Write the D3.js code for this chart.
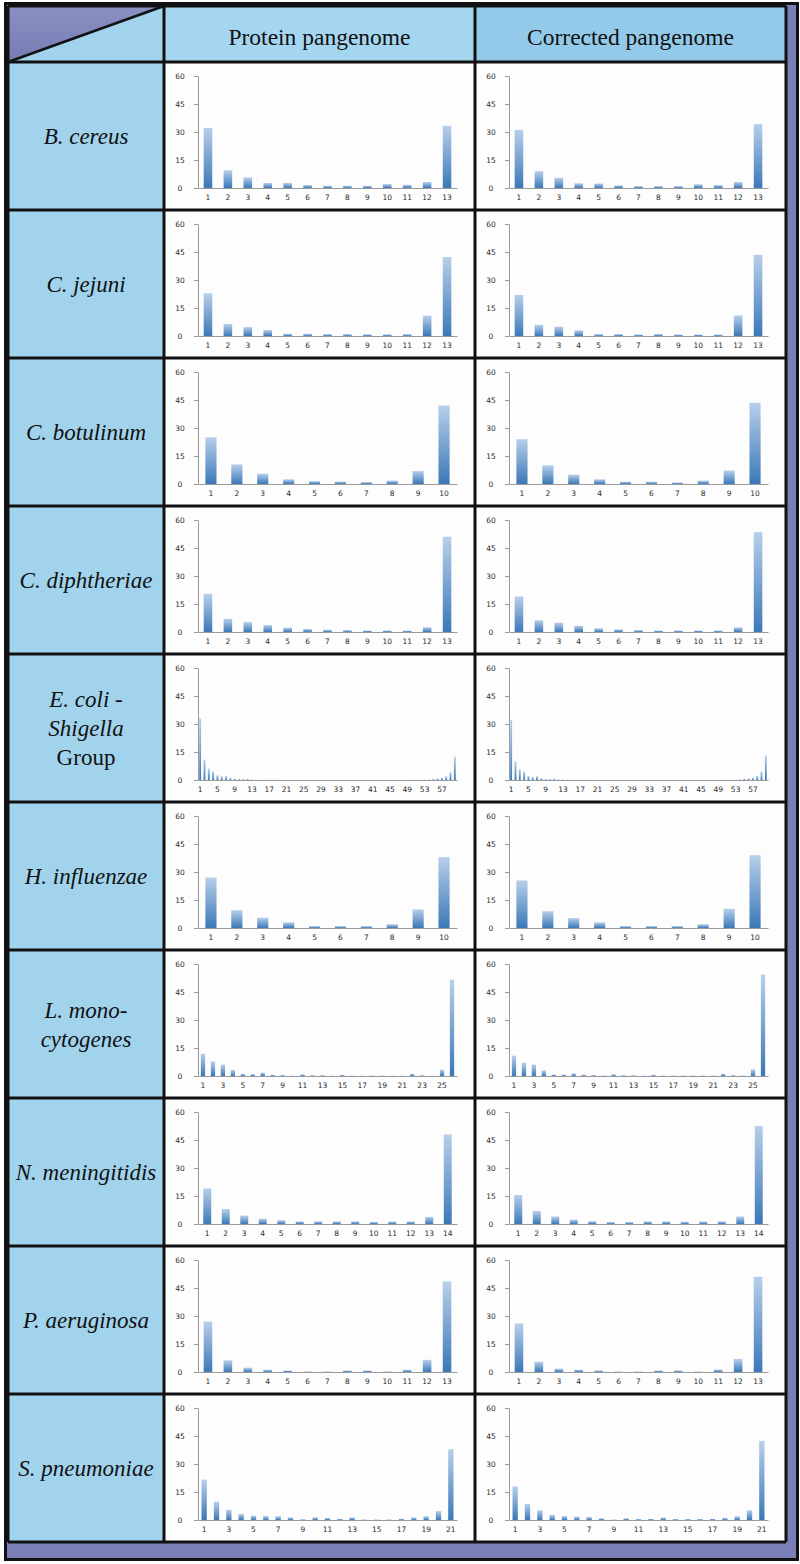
<!DOCTYPE html>
<html><head><meta charset="utf-8">
<script src="https://cdn.jsdelivr.net/npm/d3@7"></script>
<style>body{margin:0;background:#fff}svg{display:block}</style>
</head><body>
<script>
// ---------- DATA ----------
const columnTitles = ["Protein pangenome", "Corrected pangenome"];
const speciesNames = ["B. cereus", "C. jejuni", "C. botulinum", "C. diphtheriae",
  "E. coli -\nShigella\nGroup", "H. influenzae", "L. mono-\ncytogenes",
  "N. meningitidis", "P. aeruginosa", "S. pneumoniae"];
const romanLines = ["Group"];
const yTickValues = [0, 15, 30, 45, 60];

const bcereusProtein   = [32.2, 9.5, 5.7, 2.7, 2.7, 1.6, 1.2, 1.2, 1.2, 2.1, 1.7, 3.2, 33.3];
const bcereusCorrected = [31.1, 9.0, 5.4, 2.5, 2.4, 1.4, 1.0, 1.0, 1.0, 2.0, 1.6, 3.2, 34.2];
const cjejuniProtein   = [22.9, 6.4, 4.8, 3.2, 1.2, 1.2, 1.0, 1.0, 0.9, 0.9, 1.0, 10.9, 42.3];
const cjejuniCorrected = [22.0, 6.0, 5.0, 3.0, 1.0, 1.0, 0.8, 1.0, 0.8, 0.8, 0.8, 11.0, 43.5];
const cbotulinumProtein   = [25.0, 10.5, 5.5, 2.5, 1.5, 1.3, 1.0, 1.8, 7.0, 42.0];
const cbotulinumCorrected = [24.0, 10.0, 5.0, 2.5, 1.2, 1.2, 0.8, 1.8, 7.2, 43.5];
const cdiphtheriaeProtein   = [20.5, 7.0, 5.3, 3.7, 2.3, 1.6, 1.2, 1.0, 0.8, 0.8, 0.8, 2.5, 51.0];
const cdiphtheriaeCorrected = [19.0, 6.3, 5.0, 3.3, 2.0, 1.4, 1.0, 0.8, 0.8, 0.8, 0.8, 2.5, 53.5];
const ecoliProtein = [33.0, 10.9, 6.2, 4.6, 2.5, 2.0, 2.1, 1.1, 0.6, 0.5, 0.5, 0.6, 0.3,
  0.2, 0.2, 0.2, 0.2, 0.2, 0.2, 0.1, 0.1, 0.1, 0.1, 0.1, 0.1, 0.1, 0.1, 0.1, 0.1,
  0.1, 0.1, 0.1, 0.1, 0.1, 0.1, 0.1, 0.1, 0.1, 0.1, 0.1, 0.1, 0.1, 0.1, 0.1, 0.1,
  0.1, 0.1, 0.1, 0.1, 0.2, 0.2, 0.2, 0.2,
  0.3, 0.5, 0.8, 1.2, 2.0, 4.2, 12.5];
const ecoliCorrected = [32.2, 10.0, 5.7, 4.6, 2.1, 1.6, 2.0, 0.9, 0.5, 0.5, 0.6, 0.3, 0.3,
  0.2, 0.2, 0.2, 0.2, 0.2, 0.1, 0.1, 0.1, 0.1, 0.1, 0.1, 0.1, 0.1, 0.1, 0.1, 0.1,
  0.1, 0.1, 0.1, 0.1, 0.1, 0.1, 0.1, 0.1, 0.1, 0.1, 0.1, 0.1, 0.1, 0.1, 0.1, 0.1,
  0.1, 0.1, 0.1, 0.1, 0.1, 0.2, 0.2, 0.2,
  0.3, 0.6, 0.8, 1.2, 2.2, 4.5, 13.2];
const hinfluenzaeProtein   = [27.0, 9.5, 5.5, 3.0, 1.0, 1.0, 1.0, 2.0, 10.0, 38.0];
const hinfluenzaeCorrected = [25.5, 9.0, 5.3, 3.0, 1.0, 1.0, 1.0, 2.0, 10.3, 39.0];
const lmonoProtein   = [11.9, 7.8, 6.1, 3.2, 1.2, 1.0, 1.8, 0.7, 0.5, 0.2, 0.9, 0.4, 0.4,
  0.2, 0.6, 0.2, 0.2, 0.3, 0.3, 0.2, 0.2, 1.1, 0.4, 0.2, 3.4, 51.6];
const lmonoCorrected = [10.9, 7.1, 6.1, 3.0, 0.8, 0.8, 1.4, 0.7, 0.5, 0.3, 0.9, 0.4, 0.4,
  0.2, 0.6, 0.3, 0.3, 0.3, 0.3, 0.3, 0.3, 1.2, 0.4, 0.3, 3.6, 54.3];
const nmeningitidisProtein   = [19.0, 8.0, 4.5, 2.8, 2.0, 1.4, 1.4, 1.4, 1.4, 1.1, 1.3, 1.4, 3.8, 48.0];
const nmeningitidisCorrected = [15.5, 7.0, 4.0, 2.3, 1.5, 1.0, 1.0, 1.4, 1.4, 1.2, 1.3, 1.4, 4.0, 52.5];
const paeruginosaProtein   = [27.0, 6.3, 2.3, 1.2, 0.8, 0.3, 0.3, 0.8, 0.8, 0.3, 1.2, 6.5, 48.5];
const paeruginosaCorrected = [26.0, 5.5, 1.8, 1.2, 0.8, 0.3, 0.3, 0.8, 0.8, 0.3, 1.3, 7.0, 51.0];
const spneumoniaeProtein   = [21.6, 9.8, 5.5, 3.2, 2.3, 2.1, 2.0, 1.4, 0.4, 1.4, 1.1, 0.6, 1.4,
  0.3, 0.3, 0.3, 0.6, 1.3, 2.0, 4.8, 37.9];
const spneumoniaeCorrected = [18.0, 8.6, 5.2, 2.7, 2.1, 1.8, 1.6, 0.9, 0.3, 0.9, 0.5, 0.6, 1.3,
  0.5, 0.5, 0.5, 0.6, 1.1, 2.0, 5.2, 42.4];

const proteinSeries = [bcereusProtein, cjejuniProtein, cbotulinumProtein, cdiphtheriaeProtein,
  ecoliProtein, hinfluenzaeProtein, lmonoProtein, nmeningitidisProtein, paeruginosaProtein, spneumoniaeProtein];
const correctedSeries = [bcereusCorrected, cjejuniCorrected, cbotulinumCorrected, cdiphtheriaeCorrected,
  ecoliCorrected, hinfluenzaeCorrected, lmonoCorrected, nmeningitidisCorrected, paeruginosaCorrected, spneumoniaeCorrected];

// ---------- LAYOUT ----------
const W = 800, H = 1564;
const svg = d3.select("body").append("svg").attr("width", W).attr("height", H);
const defs = svg.append("defs");
const bg = defs.append("linearGradient").attr("id", "barGrad").attr("x1", 0).attr("y1", 0).attr("x2", 0).attr("y2", 1);
bg.append("stop").attr("offset", "0%").attr("stop-color", "#b7cfea");
bg.append("stop").attr("offset", "100%").attr("stop-color", "#3b78b7");
const cg = defs.append("linearGradient").attr("id", "cornerGrad").attr("x1", 0).attr("y1", 0).attr("x2", 0).attr("y2", 1);
cg.append("stop").attr("offset", "0%").attr("stop-color", "#8a90c3");
cg.append("stop").attr("offset", "100%").attr("stop-color", "#767db3");

const gridLeft = 8, gridTop = 6, headBottom = 62, gridBottom = 1542;
const colX = [164, 475, 786];

// outer frame
svg.append("rect").attr("x", 5.5).attr("y", 3.5).attr("width", 792).attr("height", 1556)
  .attr("fill", "#7a80b6").attr("stroke", "#111").attr("stroke-width", 3);

const rowScale = d3.scaleBand().domain(speciesNames).range([headBottom, gridBottom]);

// left column cells
svg.append("rect").attr("x", gridLeft).attr("y", headBottom).attr("width", colX[0] - gridLeft)
  .attr("height", gridBottom - headBottom).attr("fill", "#a1d3ed");
// header cells
svg.append("rect").attr("x", colX[0]).attr("y", gridTop).attr("width", colX[1] - colX[0])
  .attr("height", headBottom - gridTop).attr("fill", "#a5d6ef");
svg.append("rect").attr("x", colX[1]).attr("y", gridTop).attr("width", colX[2] - colX[1])
  .attr("height", headBottom - gridTop).attr("fill", "#94cae9");
// corner
svg.append("rect").attr("x", gridLeft).attr("y", gridTop).attr("width", colX[0] - gridLeft)
  .attr("height", headBottom - gridTop).attr("fill", "#a1d3ed");
svg.append("path").attr("d", d3.line()([[gridLeft, gridTop], [colX[0], gridTop], [gridLeft, headBottom]]))
  .attr("fill", "url(#cornerGrad)");
// chart cells background
svg.append("rect").attr("x", colX[0]).attr("y", headBottom).attr("width", colX[2] - colX[0])
  .attr("height", gridBottom - headBottom).attr("fill", "#fdfdfe");

// header text
columnTitles.forEach((t, i) => {
  svg.append("text").attr("x", (colX[i] + colX[i + 1]) / 2).attr("y", 45)
    .attr("text-anchor", "middle").attr("font-family", "'Liberation Serif', serif")
    .attr("font-size", 23.5).attr("fill", "#111").text(t);
});

// species labels
speciesNames.forEach(name => {
  const lines = name.split("\n");
  const cy = rowScale(name) + rowScale.bandwidth() / 2;
  const lh = 29;
  const t = svg.append("text").attr("text-anchor", "middle")
    .attr("font-family", "'Liberation Serif', serif").attr("font-size", 23).attr("fill", "#111");
  lines.forEach((ln, k) => {
    t.append("tspan").attr("x", (gridLeft + colX[0]) / 2)
      .attr("y", cy + 8 - (lines.length - 1) * lh / 2 + k * lh)
      .attr("font-style", romanLines.includes(ln) ? "normal" : "italic")
      .text(ln);
  });
});

// charts
function drawChart(values, cellX, cellY) {
  const n = values.length;
  const cats = d3.range(1, n + 1);
  const step = n <= 14 ? 1 : (n <= 30 ? 2 : 4);
  const x = d3.scaleBand().domain(cats).range([cellX + 34, cellX + 293])
    .paddingInner(0.57).paddingOuter(0.285);
  const y = d3.scaleLinear().domain([0, 60]).range([cellY + 126, cellY + 14]);
  const g = svg.append("g");
  g.selectAll("rect").data(values).join("rect")
    .attr("x", (d, i) => x(cats[i])).attr("width", x.bandwidth())
    .attr("y", d => y(d)).attr("height", d => y(0) - y(d))
    .attr("fill", "url(#barGrad)");
  const ya = g.append("g").attr("transform", `translate(${cellX + 34},0)`)
    .call(d3.axisLeft(y).tickValues(yTickValues).tickSize(4).tickSizeOuter(0));
  ya.selectAll("text").attr("text-anchor", "middle").attr("x", -18);
  const xa = g.append("g").attr("transform", `translate(0,${cellY + 126})`)
    .call(d3.axisBottom(x).tickValues(cats.filter(c => (c - 1) % step === 0)).tickSize(0).tickSizeOuter(0).tickPadding(7));
  [ya, xa].forEach(a => {
    a.select(".domain").attr("stroke", "#9a9a9a");
    a.selectAll(".tick line").attr("stroke", "#9a9a9a");
    a.selectAll("text").attr("font-family", "'DejaVu Sans', sans-serif").attr("font-size", 7.5).attr("fill", "#2a2a2a");
  });
}
speciesNames.forEach((name, i) => {
  drawChart(proteinSeries[i], colX[0], rowScale(name));
  drawChart(correctedSeries[i], colX[1], rowScale(name));
});

// grid lines
const lines = svg.append("g").attr("stroke", "#111").attr("stroke-width", 3);
[gridLeft, ...colX].forEach(xv => lines.append("line").attr("x1", xv).attr("x2", xv).attr("y1", gridTop).attr("y2", gridBottom));
[gridTop, headBottom, ...speciesNames.map(s => rowScale(s) + rowScale.bandwidth())].forEach(yv =>
  lines.append("line").attr("x1", gridLeft).attr("x2", colX[2]).attr("y1", yv).attr("y2", yv));
lines.append("line").attr("x1", gridLeft).attr("y1", headBottom).attr("x2", colX[0]).attr("y2", gridTop).attr("stroke-width", 2.5);
</script>
</body></html>
